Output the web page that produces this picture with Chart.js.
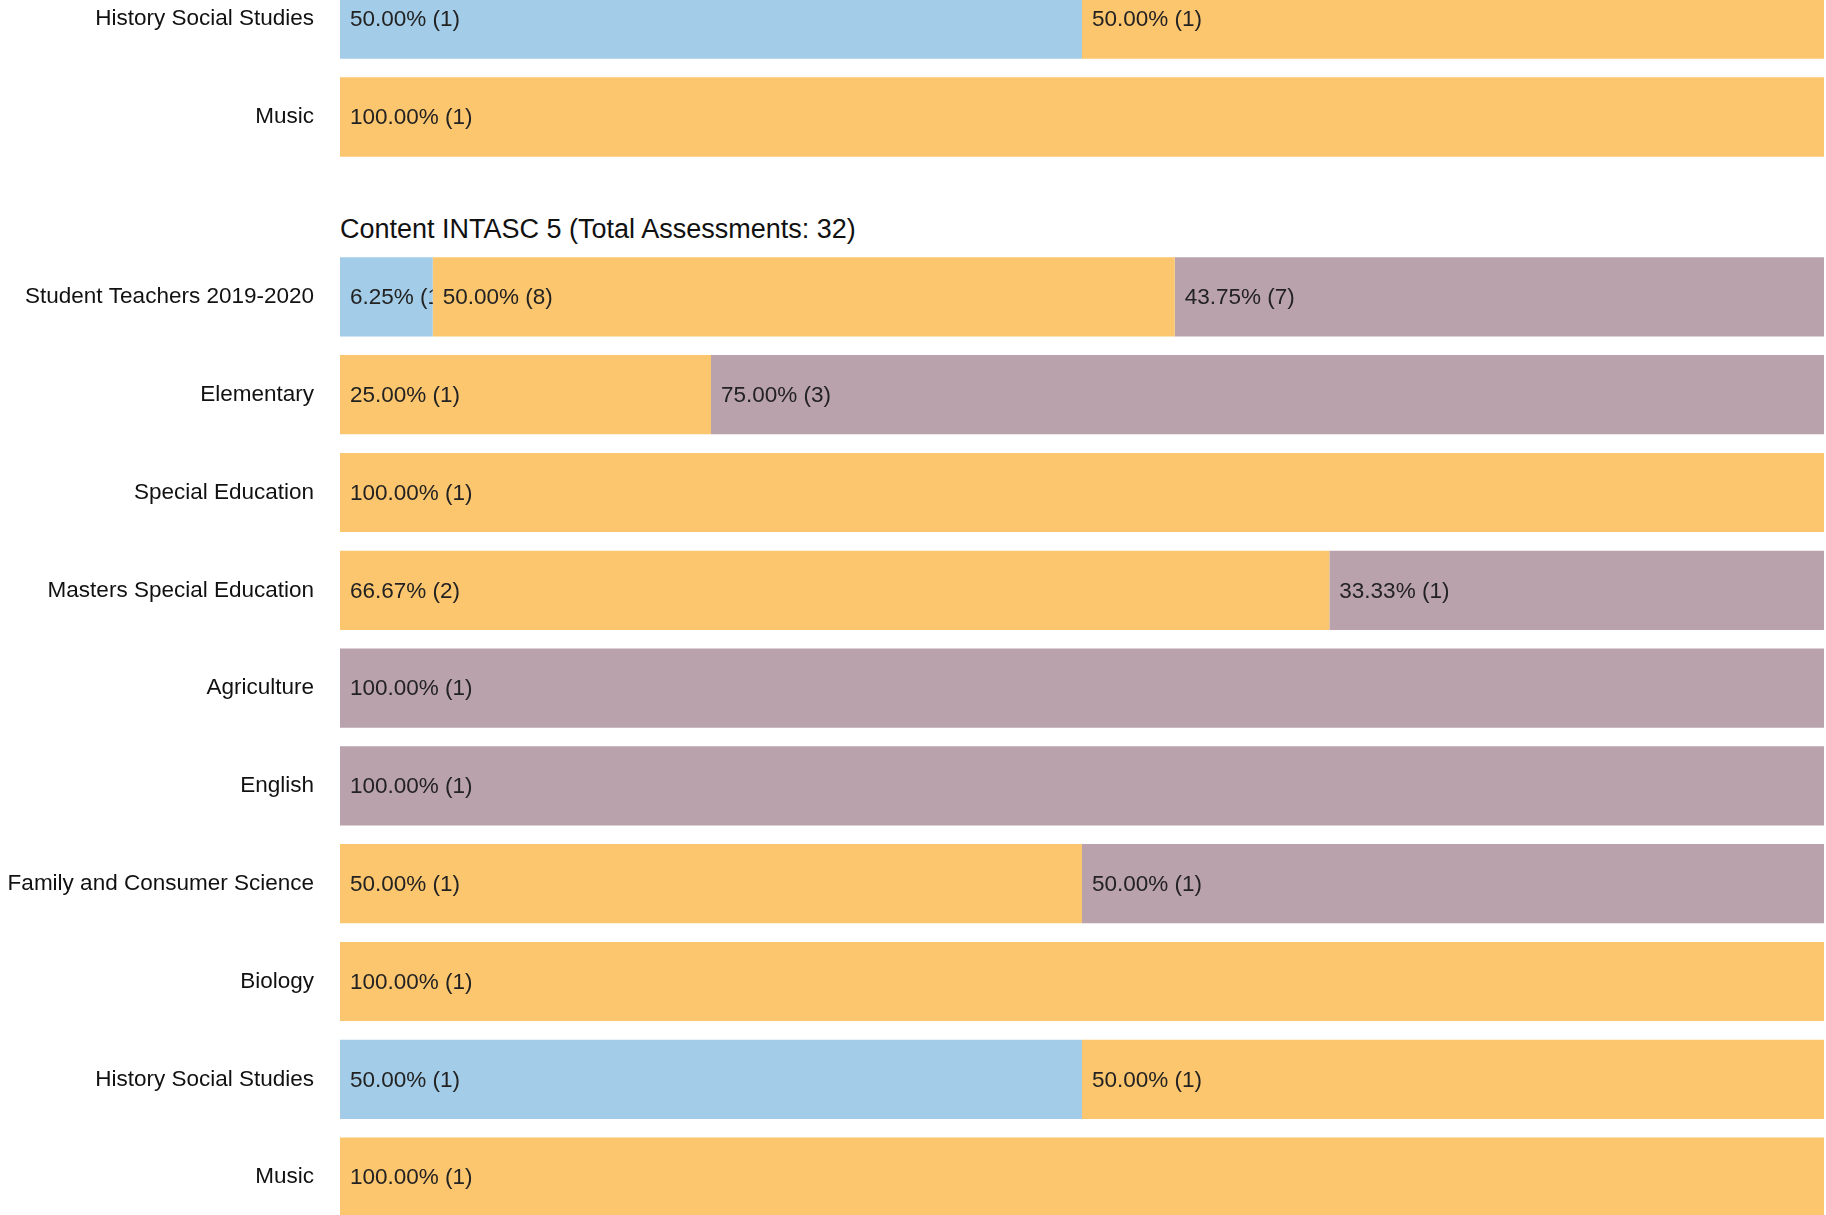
<!DOCTYPE html>
<html>
<head>
<meta charset="utf-8">
<script src="https://cdn.jsdelivr.net/npm/chart.js@4.4.1/dist/chart.umd.min.js"></script>
<style>
    html, body { margin: 0; padding: 0; background: #fff; overflow: hidden; }
    body { width: 1826px; height: 1215px; position: relative; }
    .box { position: absolute; left: 0; width: 1826px; }
    #title {
        position: absolute; left: 340px; top: 213px;
        font-family: "Liberation Sans", Arial, sans-serif; font-size: 27px; color: #111;
        line-height: 32px; white-space: nowrap;
    }
</style>
</head>
<body>
<div class="box" style="top:-30px;height:196px"><canvas id="mycanvas"></canvas></div>
<div id="title">Content INTASC 5 (Total Assessments: 32)</div>
<div class="box" style="top:248px;height:978px"><canvas id="mycanvas2"></canvas></div>
<script>
// end of the previous section (cut off at the top)
var prevGroups = ["History Social Studies", "Music"];
var prevLevel1 = [1, 0];
var prevLevel2 = [1, 1];
var prevLevel3 = [0, 0];

// Content INTASC 5
var groups = ["Student Teachers 2019-2020", "Elementary", "Special Education",
    "Masters Special Education", "Agriculture", "English",
    "Family and Consumer Science", "Biology", "History Social Studies", "Music"];
var level1 = [1, 0, 0, 0, 0, 0, 0, 0, 1, 0];
var level2 = [8, 1, 1, 2, 0, 0, 1, 1, 1, 1];
var level3 = [7, 3, 0, 1, 1, 1, 1, 0, 0, 0];

var colors = ["rgb(162, 204, 231)", "rgb(252, 198, 110)", "rgb(186, 162, 172)"];
var fontFamily = '"Liberation Sans", Arial, sans-serif';

function percents(counts, all) {
    return counts.map(function (c, i) {
        var total = all[0][i] + all[1][i] + all[2][i];
        return total ? c / total * 100 : 0;
    });
}

function makeData(labels, l1, l2, l3) {
    var all = [l1, l2, l3];
    return {
        labels: labels,
        datasets: all.map(function (counts, k) {
            return {
                label: "Level " + (k + 1),
                data: percents(counts, all),
                counts: counts,
                backgroundColor: colors[k],
                borderWidth: 0,
                categoryPercentage: 1,
                barPercentage: 0.81
            };
        })
    };
}

// "50.00% (1)" at the left of every segment, clipped to it
var segmentLabels = {
    id: "segmentLabels",
    afterDatasetsDraw: function (chart) {
        var ctx = chart.ctx;
        chart.data.datasets.forEach(function (ds, i) {
            chart.getDatasetMeta(i).data.forEach(function (bar, j) {
                var n = ds.counts[j];
                if (!n) return;
                var left = Math.min(bar.x, bar.base);
                var right = Math.max(bar.x, bar.base);
                var top = bar.y - bar.height / 2;
                ctx.save();
                ctx.beginPath();
                ctx.rect(left, top, right - left, bar.height);
                ctx.clip();
                ctx.fillStyle = "#222";
                ctx.font = "22.5px " + fontFamily;
                ctx.textBaseline = "middle";
                ctx.textAlign = "left";
                ctx.fillText(ds.data[j].toFixed(2) + "% (" + n + ")", left + 10, bar.y + 1);
                ctx.restore();
            });
        });
    }
};

var options = {
    indexAxis: "y",
    responsive: true,
    maintainAspectRatio: false,
    animation: false,
    layout: { padding: { left: 0, right: 2, top: 0, bottom: 0 } },
    plugins: {
        legend: { display: false },
        tooltip: { enabled: false }
    },
    scales: {
        x: { stacked: true, min: 0, max: 100, display: false },
        y: {
            stacked: true,
            grid: { display: false, drawTicks: false },
            border: { display: false },
            ticks: {
                padding: 26,
                color: "#111",
                font: { family: fontFamily, size: 22.5 }
            },
            afterFit: function (scale) {
                scale.width = 340;
                // labels sit inside their rows, no extra room needed above/below
                scale.paddingTop = 0;
                scale.paddingBottom = 0;
            }
        }
    }
};

new Chart(document.getElementById("mycanvas"), {
    type: "bar",
    data: makeData(prevGroups, prevLevel1, prevLevel2, prevLevel3),
    options: options,
    plugins: [segmentLabels]
});

new Chart(document.getElementById("mycanvas2"), {
    type: "bar",
    data: makeData(groups, level1, level2, level3),
    options: options,
    plugins: [segmentLabels]
});
</script>
</body>
</html>
